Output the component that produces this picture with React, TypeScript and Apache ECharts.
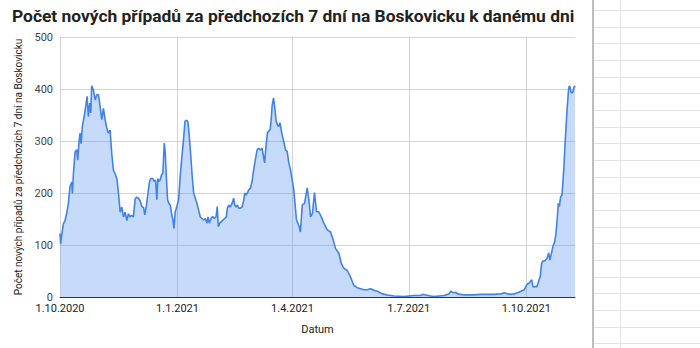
import React, { useEffect, useRef } from "react";
import * as echarts from "echarts";

const titleText = "Počet nových případů za předchozích 7 dní na Boskovicku k danému dni";
const yAxisTitle = "Počet nových případů za předchozích 7 dní na Boskovicku";
const xAxisTitle = "Datum";
const startDate = "2020-10-01";
const tickDates = ["2020-10-01", "2021-01-01", "2021-04-01", "2021-07-01", "2021-10-01"];

// days since 1.10.2020
const dayOffsets = [
  0, 0.5, 1.3, 2.6, 3.9, 5.2, 6.5, 7.8, 9.2, 9.7, 10.5, 11.8, 13.1, 13.9, 14.9, 15.7, 16.5, 17.5, 19.1, 20.1,
  21.2, 22.2, 23.3, 24.1, 24.8, 26.1, 27.5, 28.8, 30.1, 31.4, 32.7, 34, 35.3, 36.6, 37.9, 39.2, 40.5, 41.8, 43.1, 44.5,
  45.8, 47.1, 48.4, 49.7, 51, 52.3, 53.6, 54.9, 56.2, 57.5, 58.8, 60.1, 61.4, 62.7, 64.1, 65.4, 66.4, 67.5, 68.5, 70.1,
  71.1, 72.7, 73.7, 74.8, 75.8, 76.6, 77.4, 78.4, 79.5, 80.5, 81.6, 82.4, 83.1, 84.2, 85.2, 86.3, 87.3, 88.4, 89.2, 90.2,
  91.5, 92.8, 94.1, 95.4, 96.7, 97.8, 99.4, 100.2, 101.2, 102.2, 103.3, 104.6, 105.9, 107.2, 108.5, 109.8, 111.1, 112.4, 113.7, 115.1,
  115.8, 116.9, 118.2, 119.5, 120.8, 122.1, 123.1, 123.9, 125, 126.3, 127.6, 128.9, 130.2, 131, 132, 133.3, 134.7, 135.9, 136.7, 137.8,
  138.8, 139.9, 141.2, 142.5, 143.8, 144.6, 145.6, 146.7, 147.7, 149, 150.3, 151.6, 152.9, 154.3, 155.5, 156.9, 158.2, 159.5, 160.2, 161.3,
  162.4, 163.4, 164.5, 165.3, 166, 167.1, 168.1, 169.2, 170.2, 171.2, 172.3, 173.3, 174.4, 175.4, 176.5, 177.8, 179.1, 180.4, 181.7, 183,
  185.1, 186.9, 188.2, 189.6, 191.4, 193.5, 194.8, 196.1, 197.6, 199.2, 200.8, 202.6, 204.5, 206.5, 209.2, 211.8, 213.9, 215.7, 218.3, 220.2,
  222.2, 224.9, 227.5, 230, 232.7, 235.3, 237.9, 240.5, 243.1, 245.7, 248.4, 252.3, 256.2, 261.4, 269.3, 277.1, 282.4, 283.7, 286.3, 290.2,
  292.8, 300.6, 304.5, 305.9, 307.2, 308.5, 309.8, 311.1, 313.7, 316.3, 318.9, 324.2, 329.4, 334.7, 339.9, 345.1, 347.7, 350.4, 353, 355.5,
  358.2, 360.8, 363.4, 365.5, 367.3, 369.2, 370.2, 371.8, 373.3, 374.9, 375.9, 377, 378, 379.6, 381.2, 382.5, 383.5, 384.5, 385.9, 387.2,
  388.2, 389.3, 390, 390.8, 391.9, 392.9, 394.3, 395.5, 396.9, 398.2, 399, 400, 401.3, 402.6, 403.1,
];

// new cases in the previous 7 days
const weeklyCases = [
  122, 102, 118, 140, 147, 160, 179, 212, 221, 199, 237, 279, 283, 263, 299, 315, 295, 328, 350, 366,
  386, 347, 373, 354, 406, 399, 379, 389, 389, 366, 341, 363, 341, 325, 315, 321, 276, 244, 237, 228,
  199, 163, 173, 154, 163, 147, 160, 154, 157, 154, 189, 192, 190, 185, 174, 172, 158, 174, 193, 222,
  228, 228, 222, 225, 187, 228, 222, 225, 235, 238, 296, 277, 238, 187, 180, 177, 161, 148, 132, 164,
  174, 187, 232, 270, 303, 338, 340, 335, 309, 277, 238, 200, 190, 180, 167, 154, 151, 148, 151, 142,
  154, 142, 151, 155, 151, 154, 174, 135, 142, 145, 148, 151, 154, 171, 177, 173, 180, 190, 177, 173,
  177, 171, 171, 173, 186, 200, 196, 200, 206, 209, 222, 245, 264, 283, 286, 283, 286, 267, 258, 293,
  316, 319, 322, 341, 367, 383, 364, 338, 331, 328, 335, 319, 306, 296, 283, 280, 258, 245, 225, 206,
  148, 138, 125, 177, 180, 210, 187, 154, 161, 201, 164, 164, 154, 142, 129, 125, 109, 93, 84, 64,
  55, 51, 38, 22, 18, 16, 14, 14, 16, 13, 11, 6, 4, 2, 1, 3, 3, 5, 4, 2,
  1, 3, 6, 11, 9, 8, 9, 6, 5, 4, 4, 4, 5, 5, 5, 6, 8, 6, 5, 6,
  8, 11, 14, 24, 27, 33, 20, 20, 20, 32, 40, 65, 69, 70, 74, 85, 71, 82, 98, 106,
  122, 154, 180, 174, 193, 196, 245, 303, 361, 403, 406, 393, 393, 406, 403,
];

const DAY = 86400000;
const tickOffsets = tickDates.map((d) => Math.round((Date.parse(d) - Date.parse(startDate)) / DAY));
const tickLabels = tickDates.map((d) => {
  const [y, m, dd] = d.split("-");
  return `${+dd}.${+m}.${y}`;
});

const FONT = "Roboto, Arial, sans-serif";

export default function App() {
  const ref = useRef<HTMLDivElement>(null);
  useEffect(() => {
    if (!ref.current) return;
    const chart = echarts.init(ref.current, null, { renderer: "svg" });
    const sheetLines: any[] = [];
    for (let y = 10; y < 348; y += 16.67) {
      sheetLines.push({
        type: "line",
        shape: { x1: 594, y1: Math.round(y) + 0.5, x2: 700, y2: Math.round(y) + 0.5 },
        style: { stroke: "#e3e3e3", lineWidth: 1 },
        silent: true,
      });
    }
    sheetLines.push({
      type: "line",
      shape: { x1: 620.5, y1: 0, x2: 620.5, y2: 348 },
      style: { stroke: "#e6e6e6", lineWidth: 1 },
      silent: true,
    });
    sheetLines.push({
      type: "line",
      shape: { x1: 593, y1: 0, x2: 593, y2: 348 },
      style: { stroke: "#bdbdbd", lineWidth: 2 },
      silent: true,
    });
    chart.setOption({
      animation: false,
      backgroundColor: "#ffffff",
      title: {
        text: titleText,
        left: 7,
        top: 2,
        textStyle: { fontFamily: FONT, fontSize: 17.4, fontWeight: "bold", color: "#222" },
      },
      graphic: sheetLines,
      grid: { left: 60, right: 125, top: 37, bottom: 51, containLabel: false },
      xAxis: {
        type: "value",
        min: 0,
        max: dayOffsets[dayOffsets.length - 1],
        name: xAxisTitle,
        nameLocation: "middle",
        nameGap: 27,
        nameTextStyle: { fontFamily: FONT, fontSize: 11, color: "#222" },
        axisLine: { show: true, lineStyle: { color: "#333", width: 1 } },
        axisTick: { show: false },
        splitLine: { show: false },
        axisLabel: {
          customValues: tickOffsets,
          formatter: (v: number) => {
            const i = tickOffsets.findIndex((t) => Math.abs(t - v) < 0.5);
            return i >= 0 ? tickLabels[i] : "";
          },
          fontFamily: FONT,
          fontSize: 11,
          lineHeight: 11,
          color: "#222",
          margin: 6,
        },
      },
      yAxis: {
        type: "value",
        min: 0,
        max: 500,
        interval: 100,
        name: yAxisTitle,
        nameLocation: "middle",
        nameGap: 36,
        nameTextStyle: { fontFamily: FONT, fontSize: 10, color: "#222" },
        axisLine: { show: false },
        axisTick: { show: false },
        splitLine: { show: true, lineStyle: { color: "#d4d4d4", width: 1 } },
        axisLabel: {
          fontFamily: FONT,
          fontSize: 11,
          lineHeight: 11,
          color: "#444",
          margin: 7,
          padding: [0, 0, 3, 0],
        },
      },
      series: [
        {
          type: "line",
          data: dayOffsets.map((d, i) => [d, weeklyCases[i]]),
          showSymbol: false,
          smooth: false,
          z: 2,
          lineStyle: { color: "#4183ea", width: 1.6 },
          itemStyle: { color: "#4183ea" },
          areaStyle: { color: "#4285f4", opacity: 0.3 },
          markLine: {
            silent: true,
            z: 1,
            symbol: ["none", "none"],
            label: { show: false },
            lineStyle: { color: "#d4d4d4", type: "solid", width: 1 },
            data: tickOffsets.map((t) => ({ xAxis: t })),
          },
        },
      ],
    });
    return () => chart.dispose();
  }, []);
  return (
    <div
      ref={ref}
      style={{ position: "fixed", left: 0, top: 0, width: 700, height: 348, background: "#fff" }}
    />
  );
}
